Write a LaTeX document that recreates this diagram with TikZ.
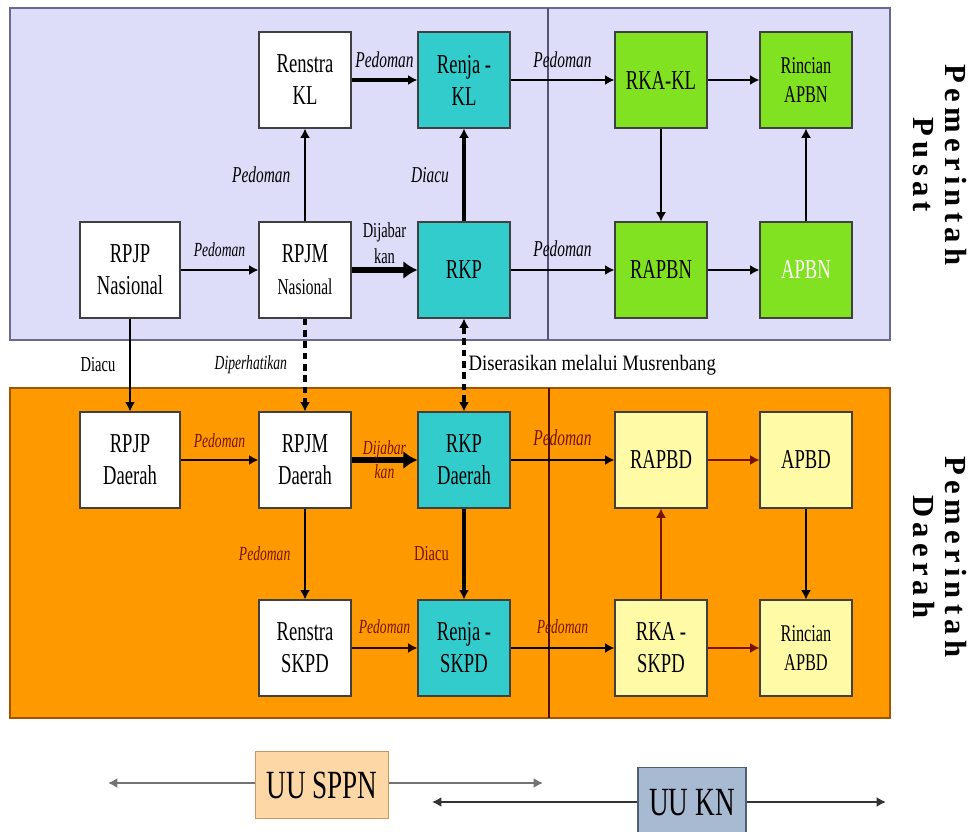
\documentclass[tikz,border=0pt]{standalone}
\usepackage{xcolor}
\usepackage{fontspec}
\setmainfont{Liberation Serif}[FakeStretch=0.68]
\newfontfamily\sidefont{Liberation Serif}[LetterSpace=17]
\newfontfamily\notefont{Liberation Serif}[FakeStretch=0.85]
\usepackage{tikz}
\usetikzlibrary{arrows.meta}

\definecolor{panelblue}{RGB}{221,221,250}
\definecolor{paneledge}{RGB}{105,105,145}
\definecolor{panelorange}{RGB}{255,153,0}
\definecolor{orangeedge}{RGB}{160,85,0}
\definecolor{tealbox}{RGB}{51,204,204}
\definecolor{greenbox}{RGB}{128,226,32}
\definecolor{creambox}{RGB}{255,250,165}
\definecolor{darkred}{RGB}{115,20,0}
\definecolor{sppnfill}{RGB}{253,216,166}
\definecolor{sppnedge}{RGB}{205,150,90}
\definecolor{knfill}{RGB}{168,186,210}
\definecolor{knedge}{RGB}{80,95,120}

\begin{document}
\begin{tikzpicture}[x=0.75pt,y=-0.75pt,>={Latex[length=7pt,width=7.5pt]},
    plan node/.style={draw=black!75,line width=0.8pt,fill=white,minimum width=69pt,minimum height=72pt,
      inner sep=1pt,align=center,font=\fontsize{20.5}{24}\selectfont},
    teal node/.style={plan node,fill=tealbox},
    green node/.style={plan node,fill=greenbox},
    cream node/.style={plan node,fill=creambox},
    lbl/.style={inner sep=2pt,font=\itshape\fontsize{15}{18}\selectfont},
    big lbl/.style={inner sep=2pt,font=\itshape\fontsize{17}{20}\selectfont},
    up lbl/.style={inner sep=2pt,align=center,font=\fontsize{16}{20}\selectfont},
    link/.style={->,line width=2pt},
    wide link/.style={->,line width=2.8pt},
    thin link/.style={->,line width=1.1pt},
    heavy link/.style={-{Latex[length=10.5pt,width=13.5pt]},line width=5pt},
    dot link/.style={line width=3pt,dash pattern=on 5pt off 3.5pt},
    side label/.style={rotate=-90,align=center,font=\sidefont\bfseries\fontsize{23}{24}\selectfont},
    law line/.style={<->,line width=1.8pt}]
  \useasboundingbox (0,0) rectangle (972,832);
  \clip (0,0) rectangle (972,832);

  % panels
  \draw[fill=panelblue,draw=paneledge,line width=1.1pt] (10,8) rectangle (890,340);
  \draw[draw=paneledge!80!black,line width=0.8pt] (548,8) -- (548,340);
  \draw[fill=panelorange,draw=orangeedge,line width=1.1pt] (10,388) rectangle (890,718);
  \draw[draw=darkred!70!black,line width=1.4pt] (549,388) -- (549,718);

  % pemerintah pusat
  \node[plan node,minimum width=75pt] (rpjpn) at (130,270) {RPJP\\Nasional};
  \node[plan node] (rpjmn) at (305,270) {RPJM\\{\fontsize{17}{20}\selectfont Nasional}};
  \node[plan node] (renstrakl) at (305,80) {Renstra\\KL};
  \node[teal node] (renjakl) at (464,80) {Renja -\\KL};
  \node[teal node] (rkp) at (464,270) {RKP};
  \node[green node] (rkakl) at (661,80) {RKA-KL};
  \node[green node,font=\fontsize{18}{22}\selectfont] (rincianapbn) at (806,80) {Rincian\\APBN};
  \node[green node] (rapbn) at (661,270) {RAPBN};
  \node[green node,text=white] (apbn) at (806,270) {APBN};

  % pemerintah daerah
  \node[plan node,minimum width=75pt] (rpjpd) at (130,460) {RPJP\\Daerah};
  \node[plan node] (rpjmd) at (305,460) {RPJM\\Daerah};
  \node[teal node] (rkpd) at (464,460) {RKP\\Daerah};
  \node[cream node] (rapbd) at (661,460) {RAPBD};
  \node[cream node] (apbd) at (806,460) {APBD};
  \node[plan node] (renstraskpd) at (305,648) {Renstra\\SKPD};
  \node[teal node] (renjaskpd) at (464,648) {Renja -\\SKPD};
  \node[cream node] (rkaskpd) at (661,648) {RKA -\\SKPD};
  \node[cream node,font=\fontsize{18}{22}\selectfont] (rincianapbd) at (806,648) {Rincian\\APBD};

  \node[side label] (pusat) at (940,165) {Pemerintah\\Pusat};
  \node[side label] (daerah) at (940,557) {Pemerintah\\Daerah};

  % top links
  \draw[link] (rpjpn) -- node[lbl,above=7pt] {Pedoman} (rpjmn);
  \draw[link] (rpjmn) -- node[big lbl,left=8pt] {Pedoman} (renstrakl);
  \draw[wide link] (renstrakl) -- node[big lbl,above=6pt] {Pedoman} (renjakl);
  \draw[heavy link] (rpjmn) -- node[up lbl,above] {Dijabar\\kan} (rkp);
  \draw[wide link] (rkp) -- node[big lbl,left=8pt] {Diacu} (renjakl);
  \draw[link] (renjakl) -- node[big lbl,above=6pt] {Pedoman} (rkakl);
  \draw[link] (rkp) -- node[big lbl,above=7pt] {Pedoman} (rapbn);
  \draw[link] (rkakl) -- (rincianapbn);
  \draw[thin link] (rkakl) -- (rapbn);
  \draw[link] (rapbn) -- (apbn);
  \draw[thin link] (apbn) -- (rincianapbn);

  % links between the panels
  \draw[link] (rpjpn) -- node[up lbl,left=8pt] {Diacu} (rpjpd);
  \draw[->,dot link] (rpjmn) -- node[lbl,left=10pt] {Diperhatikan} (rpjmd);
  \draw[<->,dot link] (rkp) -- node[right=1pt,inner sep=1pt,font=\notefont\fontsize{16.5}{20}\selectfont] {Diserasikan melalui Musrenbang} (rkpd);

  % bottom links
  \draw[link,black!85!darkred] (rpjpd) -- node[lbl,above=6pt,text=darkred] {Pedoman} (rpjmd);
  \draw[heavy link] (rpjmd) -- node[lbl,align=center,text=darkred] {Dijabar\\kan} (rkpd);
  \draw[link] (rpjmd) -- node[lbl,left=8pt,text=darkred] {Pedoman} (renstraskpd);
  \draw[wide link] (rkpd) -- node[up lbl,left=8pt,text=darkred] {Diacu} (renjaskpd);
  \draw[link,black!70!darkred] (renstraskpd) -- node[lbl,above=8pt,text=darkred] {Pedoman} (renjaskpd);
  \draw[link] (rkpd) -- node[big lbl,above=8pt,text=darkred] {Pedoman} (rapbd);
  \draw[link] (renjaskpd) -- node[lbl,above=8pt,text=darkred] {Pedoman} (rkaskpd);
  \draw[thin link,darkred] (rapbd) -- (apbd);
  \draw[thin link,darkred] (rkaskpd) -- (rapbd);
  \draw[thin link] (apbd) -- (rincianapbd);
  \draw[thin link,darkred] (rkaskpd) -- (rincianapbd);

  % undang-undang
  \coordinate (sppnL) at (108,783);
  \coordinate (sppnR) at (543,783);
  \draw[law line,black!55] (sppnL) -- (sppnR);
  \node[draw=sppnedge,fill=sppnfill,line width=0.8pt,minimum width=100pt,minimum height=50pt,
    font=\fontsize{30}{32}\selectfont] (sppn) at (322,785) {UU SPPN};
  \coordinate (knL) at (432,802);
  \coordinate (knR) at (886,802);
  \draw[law line,black!80,line width=2.2pt] (knL) -- (knR);
  \node[draw=knedge,fill=knfill,line width=0.8pt,minimum width=81pt,minimum height=53pt,
    font=\fontsize{30}{32}\selectfont] (kn) at (692,803) {UU KN};
\end{tikzpicture}
\end{document}
